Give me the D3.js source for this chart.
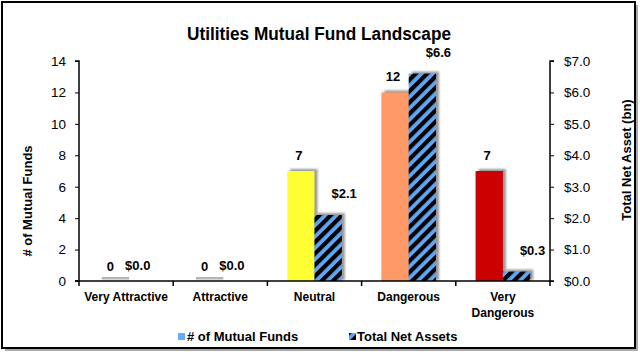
<!DOCTYPE html>
<html><head><meta charset="utf-8">
<script src="https://cdn.jsdelivr.net/npm/d3@7"></script>
<style>body{margin:0;background:#fff}svg{display:block;font-family:"Liberation Sans",Arial,sans-serif}</style>
</head><body><svg id="c" width="640" height="352"></svg>
<script>
const categories = ["Very Attractive","Attractive","Neutral","Dangerous","Very Dangerous"];
const fundCounts = [0,0,7,12,7];
const netAssets = [0.0,0.0,2.1,6.6,0.3];
const fundColors = ["#FFFF33","#FFFF33","#FFFF33","#FF9966","#CC0000"];
const leftTicks = [0,2,4,6,8,10,12,14];
const rightTicks = [0,1,2,3,4,5,6,7];

const svg = d3.select("#c");
const defs = svg.append("defs");
const pat = defs.append("pattern").attr("id","hatch").attr("patternUnits","userSpaceOnUse")
  .attr("width",8).attr("height",8).attr("patternTransform","rotate(45)");
pat.append("rect").attr("width",8).attr("height",8).attr("fill","#5FA8F5");
pat.append("rect").attr("x",0).attr("width",4.2).attr("height",8).attr("fill","#000");
const blur = defs.append("filter").attr("id","sb").attr("x","-50%").attr("y","-50%").attr("width","200%").attr("height","200%");
blur.append("feGaussianBlur").attr("stdDeviation",0.8);

// frame
svg.append("rect").attr("x",5).attr("y",5).attr("width",633).attr("height",346).attr("fill","#aaa");
svg.append("rect").attr("x",2).attr("y",2).attr("width",633).attr("height",346).attr("fill","#fff").attr("stroke","#000").attr("stroke-width",2);

const L = 79, R = 550, T = 61, B = 281;
const x = d3.scaleBand().domain(categories).range([L,R]);
const yL = d3.scaleLinear().domain([0,14]).range([B,T]);
const yR = d3.scaleLinear().domain([0,7]).range([B,T]);
const bw = x.bandwidth()*0.29;

svg.append("text").attr("x",319).attr("y",40).attr("text-anchor","middle")
  .attr("font-weight","bold").attr("font-size",18).attr("textLength",264).attr("lengthAdjust","spacingAndGlyphs")
  .text("Utilities Mutual Fund Landscape");

// shadows
const g = svg.append("g");
categories.forEach((c,i)=>{
  const cx = x(c)+x.bandwidth()/2;
  const y1 = yL(fundCounts[i]);
  if (fundCounts[i]>0){
    g.append("rect").attr("x",cx-bw+3).attr("y",y1-2).attr("width",bw).attr("height",B-y1+1)
      .attr("fill","#999").attr("filter","url(#sb)");
  } else {
    g.append("rect").attr("x",cx-bw+3).attr("y",B-4).attr("width",bw).attr("height",2.5).attr("fill","#b5b5b5");
  }
  if (netAssets[i]>0){
    const y2 = yR(netAssets[i]);
    g.append("rect").attr("x",cx+3).attr("y",y2-2).attr("width",bw).attr("height",B-y2+1)
      .attr("fill","#999").attr("filter","url(#sb)");
  }
});
categories.forEach((c,i)=>{
  const cx = x(c)+x.bandwidth()/2;
  const y1 = yL(fundCounts[i]);
  g.append("rect").attr("x",cx-bw).attr("y",y1).attr("width",bw).attr("height",B-y1).attr("fill",fundColors[i]);
  const y2 = yR(netAssets[i]);
  g.append("rect").attr("x",cx).attr("y",y2).attr("width",bw).attr("height",B-y2).attr("fill","url(#hatch)");
  g.append("text").attr("x",cx-bw/2-2).attr("y",y1-(fundCounts[i]>0?11:10)).attr("text-anchor","middle")
    .attr("font-weight","bold").attr("font-size",13).text(d3.format("d")(fundCounts[i]));
  g.append("text").attr("x",cx+bw/2+(netAssets[i]>0?16:-2)).attr("y",y2-(netAssets[i]>0?17:11)).attr("text-anchor","middle")
    .attr("font-weight","bold").attr("font-size",13).text("$"+d3.format(".1f")(netAssets[i]));
});

// axes
const axL = svg.append("g").attr("transform",`translate(${L},0)`)
  .call(d3.axisLeft(yL).tickValues(leftTicks).tickSize(4).tickPadding(9).tickFormat(d3.format("d")));
const axR = svg.append("g").attr("transform",`translate(${R},0)`)
  .call(d3.axisRight(yR).tickValues(rightTicks).tickSize(4).tickPadding(10).tickFormat(d=>"$"+d3.format(".1f")(d)));
[axL,axR].forEach(a=>{a.select(".domain").attr("stroke","#000").attr("stroke-width",1.5).attr("d",a===axL?`M-4,${T}H0V${B}H-4`:`M4,${T}H0V${B}H4`);
  a.selectAll("text").attr("font-size",13.5).attr("font-family","Liberation Sans").attr("fill","#000");});

const axB = svg.append("g").attr("transform",`translate(0,${B})`);
axB.append("line").attr("x1",L-4).attr("x2",R).attr("stroke","#000").attr("stroke-width",1.5);
categories.concat(["_end"]).forEach((c,i)=>{
  const xx = i<categories.length ? x(c) : R;
  axB.append("line").attr("x1",xx).attr("x2",xx).attr("y1",0).attr("y2",5).attr("stroke","#000").attr("stroke-width",1.5);
});
categories.forEach(c=>{
  const cx = x(c)+x.bandwidth()/2;
  const t = axB.append("text").attr("text-anchor","middle").attr("font-weight","bold").attr("font-size",12);
  const parts = c==="Very Dangerous" ? ["Very","Dangerous"] : [c];
  parts.forEach((p,k)=>t.append("tspan").attr("x",cx).attr("y",20+k*16).text(p));
});

svg.append("text").attr("transform","translate(32,201) rotate(-90)").attr("text-anchor","middle")
  .attr("font-weight","bold").attr("font-size",13).text("# of Mutual Funds");
svg.append("text").attr("transform","translate(631,160) rotate(-90)").attr("text-anchor","middle")
  .attr("font-weight","bold").attr("font-size",13).text("Total Net Asset (bn)");

// legend
svg.append("rect").attr("x",178).attr("y",333).attr("width",7).attr("height",7).attr("fill","#66AAFF");
svg.append("text").attr("x",187).attr("y",341).attr("font-weight","bold").attr("font-size",13).text("# of Mutual Funds");
svg.append("rect").attr("x",349).attr("y",333).attr("width",7).attr("height",7).attr("fill","url(#hatch)");
svg.append("text").attr("x",357).attr("y",341).attr("font-weight","bold").attr("font-size",13).text("Total Net Assets");
</script></body></html>
